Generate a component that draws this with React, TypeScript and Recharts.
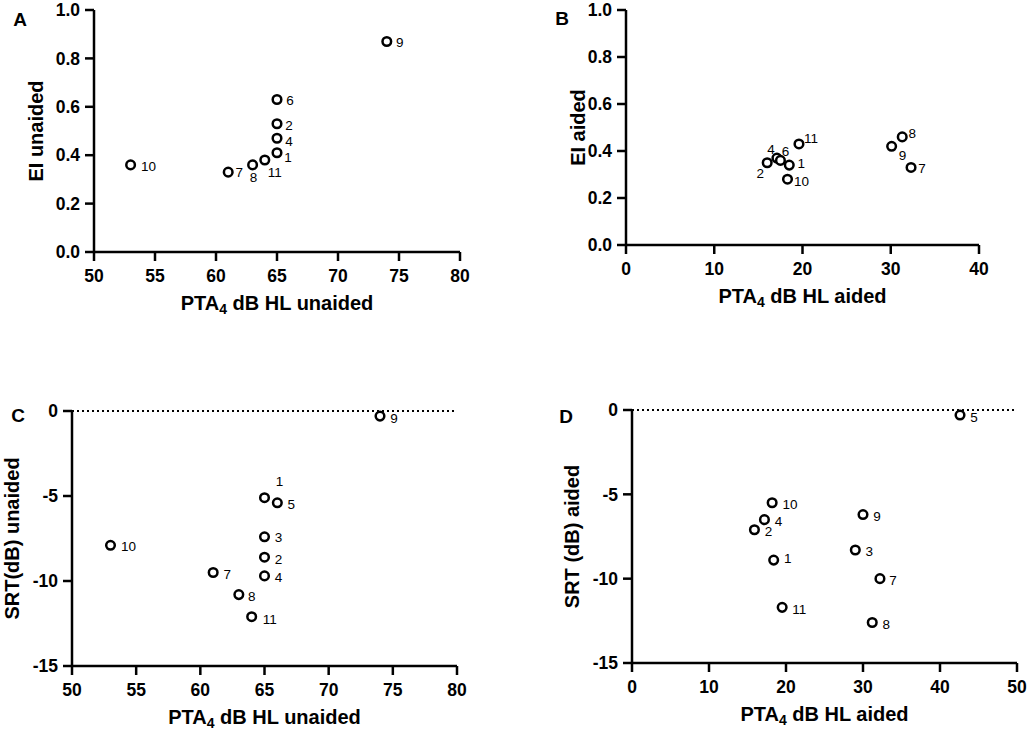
import { ReactNode } from 'react';
import { ReferenceLine, Scatter, ScatterChart, XAxis, YAxis } from 'recharts';

const FONT = '"Liberation Sans", Arial, Helvetica, sans-serif';
const INK = '#000';

// Panel A: PTA4 unaided vs EI unaided
const A_IDS = ['1', '2', '4', '6', '7', '8', '9', '10', '11'];
const A_PTA = [65, 65, 65, 65, 61, 63, 74, 53, 64];
const A_EI = [0.41, 0.53, 0.47, 0.63, 0.33, 0.36, 0.87, 0.36, 0.38];

// Panel B: PTA4 aided vs EI aided
const B_IDS = ['1', '2', '4', '6', '7', '8', '9', '10', '11'];
const B_PTA = [18.5, 16, 17.1, 17.5, 32.3, 31.3, 30.1, 18.3, 19.6];
const B_EI = [0.34, 0.35, 0.37, 0.36, 0.33, 0.46, 0.42, 0.28, 0.43];

// Panel C: PTA4 unaided vs SRT unaided
const C_IDS = ['1', '2', '3', '4', '5', '7', '8', '9', '10', '11'];
const C_PTA = [65, 65, 65, 65, 66, 61, 63, 74, 53, 64];
const C_SRT = [-5.1, -8.6, -7.4, -9.7, -5.4, -9.5, -10.8, -0.3, -7.9, -12.1];

// Panel D: PTA4 aided vs SRT aided
const D_IDS = ['1', '2', '3', '4', '5', '7', '8', '9', '10', '11'];
const D_PTA = [18.4, 15.9, 29, 17.2, 42.6, 32.2, 31.2, 30, 18.2, 19.5];
const D_SRT = [-8.9, -7.1, -8.3, -6.5, -0.3, -10.0, -12.6, -6.2, -5.5, -11.7];

const EI_TICKS = [0, 0.2, 0.4, 0.6, 0.8, 1.0];
const SRT_TICKS = [0, -5, -10, -15];
const PTA_UNAIDED_TICKS = [50, 55, 60, 65, 70, 75, 80];
const PTA_AIDED_TICKS_B = [0, 10, 20, 30, 40];
const PTA_AIDED_TICKS_D = [0, 10, 20, 30, 40, 50];

// where each subject number sits relative to its circle (layout only)
const LABEL_OFFSETS: Record<string, Record<string, [number, number]>> = {
  A: { '9': [13, 1], '6': [13, 1], '2': [12, 2], '4': [12, 3], '1': [11, 5], '11': [10, 12], '8': [1, 13], '7': [11, 0], '10': [18, 2] },
  B: { '11': [12, -5], '4': [-6, -9], '6': [5, -9], '2': [-7, 11], '1': [12, -2], '10': [14, 2], '8': [10, -3], '9': [11, 9], '7': [11, 1] },
  C: { '1': [15, -16], '5': [14, 2], '3': [14, 1], '2': [14, 2], '4': [14, 2], '7': [14, 2], '8': [13, 2], '11': [18, 3], '10': [18, 1], '9': [14, 2] },
  D: { '10': [18, 2], '4': [14, 2], '2': [14, 2], '1': [14, -2], '11': [17, 2], '9': [14, 2], '3': [14, 2], '7': [13, 2], '8': [14, 2], '5': [14, 2] },
};

type Pt = { id: string; x: number; y: number };
const toPoints = (ids: string[], xs: number[], ys: number[]): Pt[] =>
  ids.map((id, i) => ({ id, x: xs[i], y: ys[i] }));

type PanelProps = {
  letter: string;
  left: number;
  top: number;
  width: number;
  height: number;
  margin: { top: number; right: number; bottom: number; left: number };
  data: Pt[];
  xDomain: [number, number];
  xTicks: number[];
  yDomain: [number, number];
  yTicks: number[];
  yFormat: (v: number) => string;
  xSuffix: string;
  yTitle: string;
  yTitleGap: number;
  zeroLine?: boolean;
  letterPos: [number, number];
};

const axisStroke = { stroke: INK, strokeWidth: 2.5 };
const tickText = { fill: INK, fontSize: 17.5, fontWeight: 700, fontFamily: FONT };

function Panel(p: PanelProps) {
  const offsets = LABEL_OFFSETS[p.letter];

  const shape = (props: any): ReactNode => {
    const { cx, cy, payload } = props;
    const [dx, dy] = offsets[payload.id] ?? [13, 2];
    return (
      <g>
        <circle cx={cx} cy={cy} r={4.3} fill="#fff" stroke={INK} strokeWidth={2.5} />
        <text
          x={cx + dx}
          y={cy + dy}
          textAnchor="middle"
          dominantBaseline="central"
          fontSize={13.5}
          fontFamily={FONT}
          fill={INK}
        >
          {payload.id}
        </text>
      </g>
    );
  };

  const xTitle = (props: any) => {
    const vb = props.viewBox;
    return (
      <text
        x={vb.x + vb.width / 2}
        y={vb.y + 51}
        textAnchor="middle"
        dominantBaseline="central"
        fontSize={20}
        fontWeight={700}
        fontFamily={FONT}
        fill={INK}
      >
        <tspan>PTA</tspan>
        <tspan fontSize={14} dy={6}>4</tspan>
        <tspan dy={-6}>{` dB HL ${p.xSuffix}`}</tspan>
      </text>
    );
  };

  const yTitle = (props: any) => {
    const vb = props.viewBox;
    const x = vb.x + vb.width - p.yTitleGap;
    const y = vb.y + vb.height / 2;
    return (
      <text
        x={x}
        y={y}
        transform={`rotate(-90 ${x} ${y})`}
        textAnchor="middle"
        dominantBaseline="central"
        fontSize={20}
        fontWeight={700}
        fontFamily={FONT}
        fill={INK}
      >
        {p.yTitle}
      </text>
    );
  };

  return (
    <>
      <div
        style={{
          position: 'absolute',
          left: p.letterPos[0],
          top: p.letterPos[1],
          transform: 'translate(-50%, -50%)',
          fontFamily: FONT,
          fontWeight: 700,
          fontSize: 19,
          lineHeight: 1,
        }}
      >
        {p.letter}
      </div>
      <div style={{ position: 'absolute', left: p.left, top: p.top }}>
        <ScatterChart width={p.width} height={p.height} margin={p.margin}>
          <XAxis
            type="number"
            dataKey="x"
            domain={p.xDomain}
            ticks={p.xTicks}
            interval={0}
            height={60}
            axisLine={axisStroke}
            tickLine={axisStroke}
            tickSize={9}
            tickMargin={9}
            tick={tickText}
            label={{ content: xTitle }}
          />
          <YAxis
            type="number"
            dataKey="y"
            domain={p.yDomain}
            ticks={p.yTicks}
            interval={0}
            width={60}
            axisLine={axisStroke}
            tickLine={axisStroke}
            tickSize={9}
            tickMargin={5}
            tick={tickText}
            tickFormatter={p.yFormat}
            label={{ content: yTitle }}
          />
          {p.zeroLine && (
            <ReferenceLine y={0} stroke={INK} strokeWidth={2} strokeDasharray="2 3" />
          )}
          <Scatter data={p.data} shape={shape} isAnimationActive={false} />
        </ScatterChart>
      </div>
    </>
  );
}

export default function App() {
  const oneDecimal = (v: number) => v.toFixed(1);
  const plain = (v: number) => String(v);
  return (
    <div
      style={{
        position: 'absolute',
        left: 0,
        top: 0,
        width: 1029,
        height: 737,
        background: '#fff',
        fontFamily: FONT,
      }}
    >
      <Panel
        letter="A"
        left={0}
        top={0}
        width={490}
        height={320}
        margin={{ top: 10, right: 30, bottom: 8, left: 34 }}
        data={toPoints(A_IDS, A_PTA, A_EI)}
        xDomain={[50, 80]}
        xTicks={PTA_UNAIDED_TICKS}
        yDomain={[0, 1]}
        yTicks={EI_TICKS}
        yFormat={oneDecimal}
        xSuffix="unaided"
        yTitle="EI unaided"
        yTitleGap={58}
        letterPos={[20, 19]}
      />
      <Panel
        letter="B"
        left={520}
        top={0}
        width={490}
        height={320}
        margin={{ top: 10, right: 31, bottom: 15, left: 46 }}
        data={toPoints(B_IDS, B_PTA, B_EI)}
        xDomain={[0, 40]}
        xTicks={PTA_AIDED_TICKS_B}
        yDomain={[0, 1]}
        yTicks={EI_TICKS}
        yFormat={oneDecimal}
        xSuffix="aided"
        yTitle="EI aided"
        yTitleGap={48}
        letterPos={[562, 18]}
      />
      <Panel
        letter="C"
        left={0}
        top={380}
        width={490}
        height={357}
        margin={{ top: 31, right: 33, bottom: 11, left: 12 }}
        data={toPoints(C_IDS, C_PTA, C_SRT)}
        xDomain={[50, 80]}
        xTicks={PTA_UNAIDED_TICKS}
        yDomain={[-15, 0]}
        yTicks={SRT_TICKS}
        yFormat={plain}
        xSuffix="unaided"
        yTitle="SRT(dB) unaided"
        yTitleGap={60}
        zeroLine
        letterPos={[18, 415]}
      />
      <Panel
        letter="D"
        left={520}
        top={380}
        width={509}
        height={357}
        margin={{ top: 30, right: 12, bottom: 14, left: 52 }}
        data={toPoints(D_IDS, D_PTA, D_SRT)}
        xDomain={[0, 50]}
        xTicks={PTA_AIDED_TICKS_D}
        yDomain={[-15, 0]}
        yTicks={SRT_TICKS}
        yFormat={plain}
        xSuffix="aided"
        yTitle="SRT (dB) aided"
        yTitleGap={60}
        zeroLine
        letterPos={[566, 416]}
      />
    </div>
  );
}
